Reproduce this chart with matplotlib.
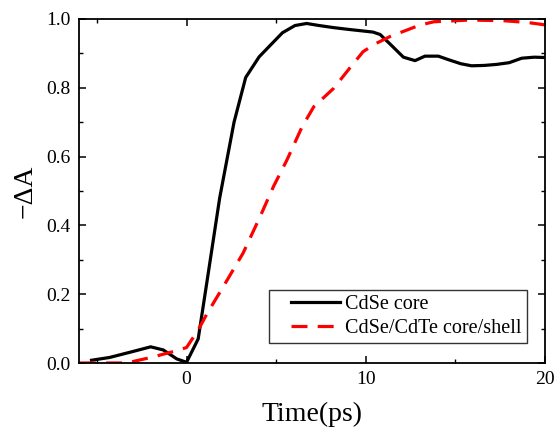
import numpy as np
import matplotlib
matplotlib.use("Agg")
import matplotlib.pyplot as plt
from matplotlib.ticker import MultipleLocator
from matplotlib.legend_handler import HandlerLine2D
from matplotlib.lines import Line2D

plt.rcParams.update({
    "font.family": ["Liberation Serif", "DejaVu Serif"],
    "mathtext.fontset": "stix",
    "xtick.direction": "in",
    "ytick.direction": "in",
    "xtick.top": True,
    "ytick.right": True,
})

# CdSe core
t_core = [-5.3, -4.3, -3.1, -2.0, -1.3, -0.55, 0.0, 0.65, 1.15, 1.85, 2.65, 3.3,
          4.05, 4.7, 5.35, 6.05, 6.7, 7.4, 8.2, 9.0, 9.7, 10.4, 10.8, 11.4, 12.1,
          12.75, 13.3, 14.05, 14.6, 15.3, 15.9, 16.6, 17.3, 18.0, 18.7, 19.4, 20.0]
a_core = [0.008, 0.016, 0.032, 0.047, 0.038, 0.012, 0.002, 0.07, 0.24, 0.48, 0.70, 0.83,
          0.89, 0.925, 0.96, 0.981, 0.987, 0.981, 0.975, 0.970, 0.966, 0.962, 0.955, 0.925, 0.889,
          0.879, 0.892, 0.892, 0.882, 0.870, 0.864, 0.865, 0.868, 0.873, 0.886, 0.889, 0.888]

# CdSe/CdTe core/shell
t_shell = [-5.95, -4.5, -3.35, -2.0, -0.75, 0.0, 0.65, 1.15, 2.05, 3.15, 4.1, 4.85,
           5.6, 6.45, 7.1, 8.2, 9.1, 9.85, 10.5, 11.35, 12.3, 13.0, 13.8, 15.8,
           17.7, 19.0, 20.0]
a_shell = [0.0, 0.0, 0.0, 0.016, 0.033, 0.045, 0.096, 0.144, 0.222, 0.319, 0.425, 0.513,
           0.59, 0.687, 0.745, 0.798, 0.857, 0.905, 0.927, 0.949, 0.968, 0.982, 0.992, 0.997,
           0.995, 0.99, 0.983]

fig = plt.figure(figsize=(5.55, 4.28), dpi=100)
ax = fig.add_axes([79 / 555, 1 - 363 / 428, 466 / 555, 344 / 428])

ax.plot(t_core, a_core, color="black", lw=2.3, label="CdSe core")
ax.plot(t_shell, a_shell, color="#ff0000", lw=2.3, dashes=(5, 3.2), label="CdSe/CdTe core/shell")

ax.set_xlim(-6, 20)
ax.set_ylim(0, 1.0)
ax.xaxis.set_major_locator(MultipleLocator(10))
ax.xaxis.set_minor_locator(MultipleLocator(5))
ax.yaxis.set_major_locator(MultipleLocator(0.2))
ax.yaxis.set_minor_locator(MultipleLocator(0.1))
ax.yaxis.set_major_formatter(matplotlib.ticker.FormatStrFormatter("%.1f"))
ax.tick_params(which="major", length=5, width=1.1, labelsize=14, pad=6)
ax.tick_params(which="minor", length=3, width=1.0)
for s in ax.spines.values():
    s.set_linewidth(1.3)

ax.set_xlabel("Time(ps)", fontsize=20, labelpad=10)
ax.set_ylabel("\u2212\u0394A", fontsize=20, labelpad=6)

# padded handles so the legend box has room on the left like the original
leg = ax.legend(loc="lower right", bbox_to_anchor=(0.961, 0.058), fontsize=14.5,
                frameon=True, fancybox=False, edgecolor="black", handlelength=3.3,
                borderpad=0.25, labelspacing=0.25, handletextpad=0.25, borderaxespad=0,
                handler_map={Line2D: HandlerLine2D(xpad=0.85)})
leg.get_frame().set_linewidth(1.0)

fig.savefig("out.png", dpi=100)
